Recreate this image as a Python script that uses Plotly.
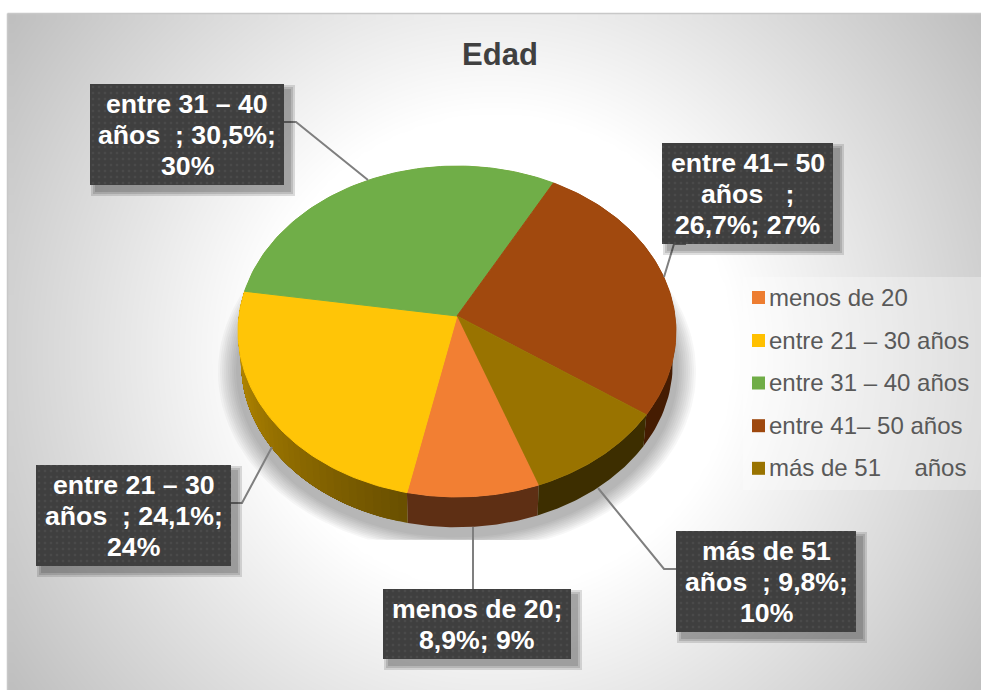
"""
Gráfico de pastel 3D "Edad" dibujado sobre ejes en píxeles.
"""

import numpy as np
import plotly.graph_objects as go

NB = "\u00a0"

CATEGORIAS = ["menos de 20", "entre 21 – 30 años", "entre 31 – 40 años", "entre 41– 50 años", f"más de 51{NB*5}años"]
PORCENTAJES = [8.9, 24.1, 30.5, 26.7, 9.8]
ETIQUETAS = [
    ["menos de 20;", "8,9%; 9%"],
    ["entre 21 – 30", f"años{NB*2}; 24,1%;", "24%"],
    ["entre 31 – 40", f"años{NB*2}; 30,5%;", "30%"],
    ["entre 41– 50", f"años{NB*3};", "26,7%; 27%"],
    ["más de 51", f"años{NB*2}; 9,8%;", "10%"],
]
TITULO = "Edad"

COLOR_LEYENDA = ["#ED7D31", "#FFC000", "#70AD47", "#9E480E", "#997300"]
COLOR_CARA = ["#F27F33", "#FFC507", "#70AE48", "#A1490E", "#997300"]
# color del lateral: (inicio, fin) a lo largo del arco de cada porción
COLOR_LADO = [
    ("#5E2F14", "#5E2F14"),
    ("#6A5000", "#C89600"),
    ("#C89600", "#C89600"),
    ("#451C02", "#451C02"),
    ("#3D2E00", "#3D2E00"),
]

# cajas de etiqueta (x0, x1, y0, y1) y líneas guía, en píxeles
CAJAS = [
    (383, 571, 589, 659),
    (36, 231, 465, 566),
    (90, 284, 84, 185),
    (662, 833, 143, 244),
    (676, 856, 531, 632),
]
GUIAS = [
    ([473, 473], [527, 589]),
    ([231, 242, 272], [503, 503, 447]),
    ([284, 296, 368], [122, 122, 180]),
    ([686, 674, 664], [244, 244, 277]),
    ([676, 664, 598], [569, 569, 488]),
]

# perspectiva de la cara superior
CX, CY = 457, 316
RX, RY, K = 218, 164, 0.0937
GROSOR = 33
ANGULO_INICIO = 160
FILAS_LEYENDA = [297.5, 340.5, 383, 425.7, 468.3]

FUENTE = "Liberation Sans"


def proyectar(theta, dy=0.0, escala=1.0):
    """Ángulo en grados (horario desde arriba) a píxeles."""
    t = np.radians(theta)
    x_d, y_d = np.sin(t), -np.cos(t)
    d = 1 - K * y_d
    return CX + escala * RX * x_d / d, CY + dy + escala * RY * y_d / d


def poligono(xs, ys, color, linea=True, **kwargs):
    return go.Scatter(
        x=list(xs),
        y=list(ys),
        mode="lines",
        fill="toself",
        fillcolor=color,
        line=dict(color=color, width=1 if linea else 0),
        hoverinfo="skip",
        showlegend=False,
        **kwargs,
    )


def mezclar(c0, c1, t):
    a = [int(c0[i:i + 2], 16) for i in (1, 3, 5)]
    b = [int(c1[i:i + 2], 16) for i in (1, 3, 5)]
    return "rgb({},{},{})".format(*[round(p + (q - p) * t) for p, q in zip(a, b)])


def caja_sombra(x0, x1, y0, y1):
    trazas = []
    for e in (5, 3, 1):
        trazas.append(poligono(
            [x0 + 6 - e, x1 + 6 + e, x1 + 6 + e, x0 + 6 - e],
            [y0 + 6 - e, y0 + 6 - e, y1 + 6 + e, y1 + 6 + e],
            "rgba(0,0,0,0.13)", linea=False,
        ))
    return trazas


fig = go.Figure()

# fondo con degradado radial; la rejilla pasa del borde para cubrir toda la ventana
gx = np.arange(8 + 4.5, 1000, 9.0)
gy = np.arange(14 + 4.5, 710, 9.0)
mx, my = np.meshgrid(gx, gy)
dist = np.hypot(mx - 494.5, my - 352) / 592
fondo = 255 - 65 * np.clip((dist - 0.4) / 0.6, 0, 1)
fig.add_trace(go.Heatmap(
    x=gx, y=gy, z=fondo, zmin=0, zmax=255, zsmooth="best",
    colorscale=[[0, "#000000"], [1, "#ffffff"]],
    showscale=False, hoverinfo="skip",
))

# sombra bajo el pastel
arco = np.linspace(0, 360, 181)
for e in range(20, 0, -2):
    sx, sy = proyectar(arco, dy=GROSOR + 6, escala=1 + e / 218)
    fig.add_trace(poligono(sx, np.minimum(sy, 540), "rgba(0,0,0,0.03)", linea=False))

limites = ANGULO_INICIO + np.cumsum([0] + PORCENTAJES) * 3.6

# laterales: cada tramo llega hasta el final de la porción para que no queden costuras
for i in range(len(PORCENTAJES)):
    tramos = np.linspace(limites[i], limites[i + 1], 41)
    for j in range(40):
        if COLOR_LADO[i][0] == COLOR_LADO[i][1] and j > 0:
            break
        a = np.linspace(tramos[j], limites[i + 1], 60)
        x_sup, y_sup = proyectar(a)
        x_inf, y_inf = proyectar(a[::-1], dy=GROSOR, escala=0.985)
        color = mezclar(COLOR_LADO[i][0], COLOR_LADO[i][1], j / 39)
        fig.add_trace(poligono(np.r_[x_sup, x_inf], np.r_[y_sup, y_inf], color, linea=False))

# caras superiores
for i in range(len(PORCENTAJES)):
    a = np.linspace(limites[i], limites[i + 1], 80)
    x_cara, y_cara = proyectar(a)
    fig.add_trace(poligono(np.r_[CX, x_cara], np.r_[CY, y_cara], COLOR_CARA[i]))

# líneas guía
for gx_i, gy_i in GUIAS:
    fig.add_trace(go.Scatter(
        x=gx_i, y=gy_i, mode="lines", line=dict(color="#7F7F7F", width=2),
        hoverinfo="skip", showlegend=False,
    ))

# cajas de etiqueta
for (x0, x1, y0, y1), lineas in zip(CAJAS, ETIQUETAS):
    for traza in caja_sombra(x0, x1, y0, y1):
        fig.add_trace(traza)
    fig.add_trace(poligono(
        [x0, x1, x1, x0], [y0, y0, y1, y1], "#3F3F3F", linea=False,
        fillpattern=dict(shape=".", size=6, solidity=0.15, bgcolor="#3F3F3F", fgcolor="#565656"),
    ))
    medio = (y0 + y1) / 2
    for n, texto in enumerate(lineas):
        fig.add_annotation(
            x=(x0 + x1) / 2, y=medio + (n - (len(lineas) - 1) / 2) * 31,
            text=f"<b>{texto}</b>", showarrow=False, xanchor="center", yanchor="middle",
            font=dict(family=FUENTE, size=26.67, color="#FFFFFF"),
        )

# leyenda
fig.add_trace(poligono([743, 981, 981, 743], [277, 277, 490, 490], "rgba(255,255,255,0.3)", linea=False))
for nombre, color, fila in zip(CATEGORIAS, COLOR_LEYENDA, FILAS_LEYENDA):
    fig.add_trace(go.Scatter(
        x=[758.5], y=[fila], mode="markers",
        marker=dict(symbol="square", size=13, color=color, line=dict(width=0)),
        hoverinfo="skip", showlegend=False,
    ))
    fig.add_annotation(
        x=767, y=fila - 0.5, text=nombre, showarrow=False, xanchor="left", yanchor="middle",
        font=dict(family=FUENTE, size=24, color="#595959"),
    )

fig.update_layout(
    width=981,
    height=690,
    autosize=False,
    margin=dict(t=0, b=0, l=0, r=0),
    paper_bgcolor="#ffffff",
    plot_bgcolor="#ffffff",
    showlegend=False,
    title=dict(
        text=f"<b>{TITULO}</b>", x=500 / 981, y=1 - 54 / 690, xanchor="center", yanchor="middle",
        font=dict(family=FUENTE, size=31, color="#404040"),
    ),
    xaxis=dict(range=[0, 981], visible=False, fixedrange=True),
    yaxis=dict(range=[690, 0], visible=False, fixedrange=True),
    shapes=[
        dict(type="line", x0=7.5, x1=981, y0=13.5, y1=13.5, line=dict(color="#C8C8C8", width=1.5)),
        dict(type="line", x0=7.5, x1=7.5, y0=13.5, y1=690, line=dict(color="#C8C8C8", width=1.5)),
    ],
)

# sin margen del body para que la figura ocupe toda la ventana
fig.write_html(
    "out.html",
    config={"displayModeBar": False},
    post_script="document.body.style.margin='0';document.body.style.overflow='hidden';",
)
